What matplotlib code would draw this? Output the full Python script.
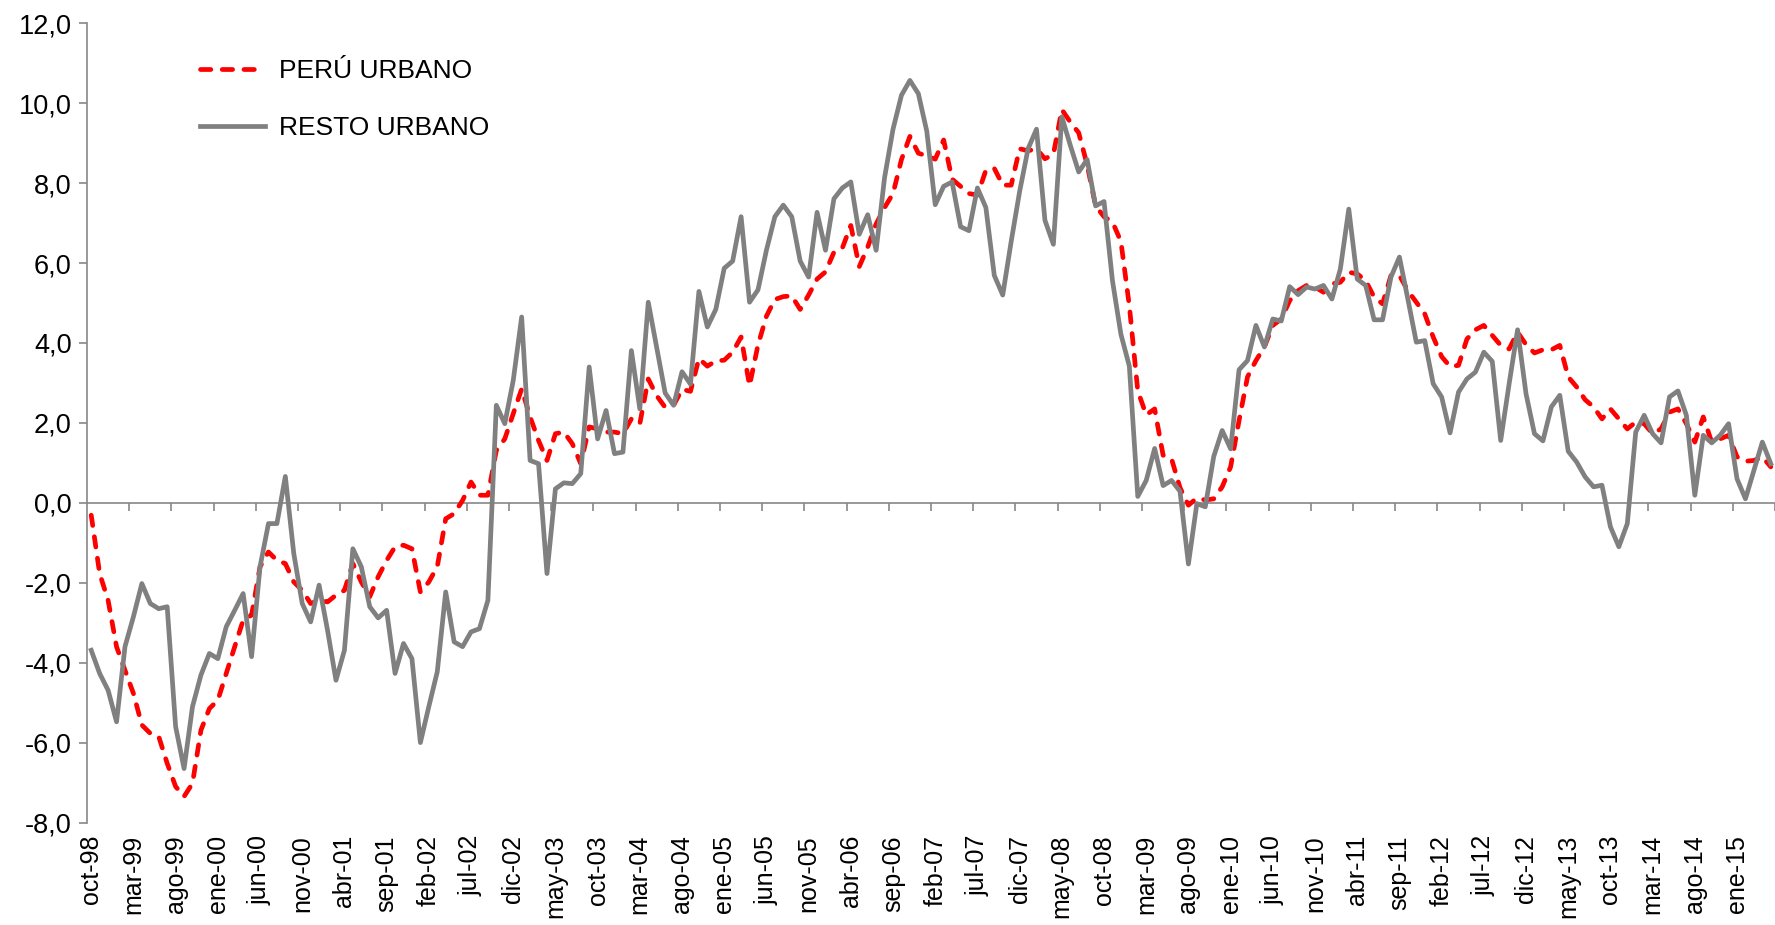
import matplotlib

matplotlib.use("Agg")
import matplotlib.pyplot as plt
import numpy as np
from matplotlib.ticker import FuncFormatter

plt.rcParams["font.family"] = ["Liberation Sans", "DejaVu Sans"]

# Monthly series, oct-98 .. may-15
tick_labels = [
    "oct-98", "mar-99", "ago-99", "ene-00", "jun-00", "nov-00", "abr-01", "sep-01",
    "feb-02", "jul-02", "dic-02", "may-03", "oct-03", "mar-04", "ago-04", "ene-05",
    "jun-05", "nov-05", "abr-06", "sep-06", "feb-07", "jul-07", "dic-07", "may-08",
    "oct-08", "mar-09", "ago-09", "ene-10", "jun-10", "nov-10", "abr-11", "sep-11",
    "feb-12", "jul-12", "dic-12", "may-13", "oct-13", "mar-14", "ago-14", "ene-15",
]

peru_urbano = [
    -0.31, -1.77, -2.44, -3.60, -4.19, -4.77, -5.56, -5.77, -5.85, -6.52,
    -7.10, -7.35, -7.02, -5.69, -5.15, -4.94, -4.27, -3.60, -2.94, -2.81,
    -1.60, -1.23, -1.44, -1.52, -1.98, -2.19, -2.52, -2.44, -2.48, -2.31,
    -2.19, -1.52, -1.98, -2.35, -1.85, -1.44, -1.10, -1.06, -1.15, -2.23,
    -1.98, -1.60, -0.40, -0.27, 0.06, 0.52, 0.19, 0.19, 1.31, 1.60,
    2.23, 2.85, 2.15, 1.56, 1.06, 1.73, 1.77, 1.48, 0.98, 1.90,
    1.85, 1.77, 1.77, 1.73, 2.10, 1.98, 3.10, 2.68, 2.39, 2.44,
    2.84, 2.79, 3.61, 3.42, 3.55, 3.57, 3.77, 4.15, 2.93, 3.95,
    4.67, 5.09, 5.16, 5.18, 4.84, 5.20, 5.60, 5.78, 6.27, 6.38,
    6.94, 5.91, 6.40, 6.98, 7.39, 7.74, 8.59, 9.17, 8.75, 8.68,
    8.60, 9.08, 8.10, 7.92, 7.74, 7.70, 8.32, 8.37, 7.95, 7.95,
    8.86, 8.81, 8.86, 8.61, 8.72, 9.84, 9.53, 9.26, 8.46, 7.43,
    7.16, 7.03, 6.54, 4.93, 2.80, 2.20, 2.35, 1.19, 1.10, 0.38,
    -0.06, 0.12, 0.07, 0.10, 0.40, 0.90, 2.06, 3.15, 3.56, 3.90,
    4.44, 4.60, 5.06, 5.31, 5.44, 5.40, 5.27, 5.48, 5.52, 5.77,
    5.73, 5.56, 5.15, 4.98, 5.69, 5.69, 5.31, 5.02, 4.73, 4.15,
    3.66, 3.41, 3.44, 4.10, 4.33, 4.44, 4.19, 3.94, 3.85, 4.27,
    3.96, 3.75, 3.83, 3.83, 3.94, 3.15, 2.90, 2.58, 2.40, 2.10,
    2.35, 2.10, 1.85, 2.02, 1.98, 1.73, 1.85, 2.27, 2.35, 1.98,
    1.52, 2.15, 1.52, 1.60, 1.69, 1.15, 1.04, 1.06, 1.15, 0.90,
]

resto_urbano = [
    -3.69, -4.27, -4.69, -5.48, -3.60, -2.85, -2.02, -2.52, -2.65, -2.60,
    -5.60, -6.65, -5.10, -4.31, -3.77, -3.90, -3.10, -2.69, -2.27, -3.85,
    -1.60, -0.52, -0.52, 0.66, -1.27, -2.52, -2.98, -2.06, -3.19, -4.44,
    -3.69, -1.15, -1.60, -2.60, -2.88, -2.69, -4.27, -3.52, -3.90, -6.00,
    -5.10, -4.23, -2.23, -3.48, -3.60, -3.23, -3.15, -2.44, 2.44, 1.98,
    3.06, 4.65, 1.06, 0.98, -1.77, 0.35, 0.50, 0.48, 0.73, 3.40,
    1.60, 2.31, 1.23, 1.27, 3.81, 2.35, 5.02, 3.88, 2.75, 2.44,
    3.28, 2.97, 5.29, 4.40, 4.84, 5.87, 6.05, 7.16, 5.02, 5.33,
    6.32, 7.16, 7.45, 7.16, 6.05, 5.65, 7.27, 6.32, 7.61, 7.88,
    8.03, 6.72, 7.21, 6.32, 8.14, 9.35, 10.20, 10.57, 10.24, 9.30,
    7.46, 7.92, 8.03, 6.91, 6.81, 7.88, 7.39, 5.69, 5.20, 6.54,
    7.79, 8.86, 9.35, 7.07, 6.47, 9.66, 8.95, 8.28, 8.59, 7.43,
    7.54, 5.56, 4.22, 3.42, 0.16, 0.56, 1.36, 0.43, 0.56, 0.29,
    -1.53, -0.02, -0.10, 1.16, 1.81, 1.35, 3.33, 3.56, 4.44, 3.90,
    4.60, 4.55, 5.41, 5.21, 5.40, 5.35, 5.44, 5.10, 5.85, 7.35,
    5.60, 5.44, 4.58, 4.58, 5.65, 6.15, 5.10, 4.02, 4.06, 2.98,
    2.65, 1.75, 2.77, 3.10, 3.27, 3.77, 3.54, 1.56, 2.98, 4.33,
    2.73, 1.73, 1.55, 2.40, 2.69, 1.29, 1.02, 0.65, 0.40, 0.44,
    -0.60, -1.10, -0.52, 1.77, 2.19, 1.73, 1.50, 2.65, 2.80, 2.19,
    0.19, 1.69, 1.50, 1.69, 1.98, 0.60, 0.10, 0.81, 1.52, 0.98,
]

AXIS_GREY = "#878787"

n = len(peru_urbano)
x = np.arange(n)

fig = plt.figure(figsize=(17.75, 9.25), dpi=100)
ax = fig.add_axes([87 / 1775, 1 - 822.5 / 925, 1 - 87 / 1775, 799.2 / 925])

red_line, = ax.plot(x, peru_urbano, color="#FF0000", lw=3.4,
                    dashes=(2.2, 2.4), dash_capstyle="round", zorder=3)
grey_line, = ax.plot(x, resto_urbano, color="#808080", lw=3.4,
                     solid_joinstyle="round", zorder=4)

ax.set_xlim(-0.5, n - 0.5)
ax.set_ylim(-8, 12)
ax.set_yticks(np.arange(-8, 13, 2))
ax.yaxis.set_major_formatter(FuncFormatter(lambda v, p: f"{v:.1f}".replace(".", ",")))
ax.tick_params(axis="y", direction="out", length=6, width=1.2, color=AXIS_GREY,
               labelsize=19.5, pad=5)

# category labels at the bottom, every 5 months
ax.set_xticks(x[::5][:len(tick_labels)])
ax.set_xticklabels(tick_labels, rotation=90, va="top", ha="center")
ax.tick_params(axis="x", length=0, labelsize=18, pad=9)

for side in ["top", "right", "bottom"]:
    ax.spines[side].set_visible(False)
ax.spines["left"].set_color(AXIS_GREY)
ax.spines["left"].set_linewidth(1.2)

# horizontal axis line at zero with tick marks between categories
zero_axis = ax.secondary_xaxis(0.4)
zero_axis.set_xticks(x[4::5] + 0.5)
zero_axis.set_xticklabels([])
zero_axis.tick_params(direction="out", length=6, width=1.2, color=AXIS_GREY)
zero_axis.spines["bottom"].set_color(AXIS_GREY)
zero_axis.spines["bottom"].set_linewidth(1.2)

ax.legend([red_line, grey_line], ["PERÚ URBANO", "RESTO URBANO"],
          loc="upper left", bbox_to_anchor=(200 / 1775, 1 - 59 / 925),
          bbox_transform=fig.transFigure, frameon=False, fontsize=19,
          handlelength=2.45, handletextpad=0.55, labelspacing=1.25,
          borderpad=0, borderaxespad=0)

fig.savefig("out.png", dpi=100)
